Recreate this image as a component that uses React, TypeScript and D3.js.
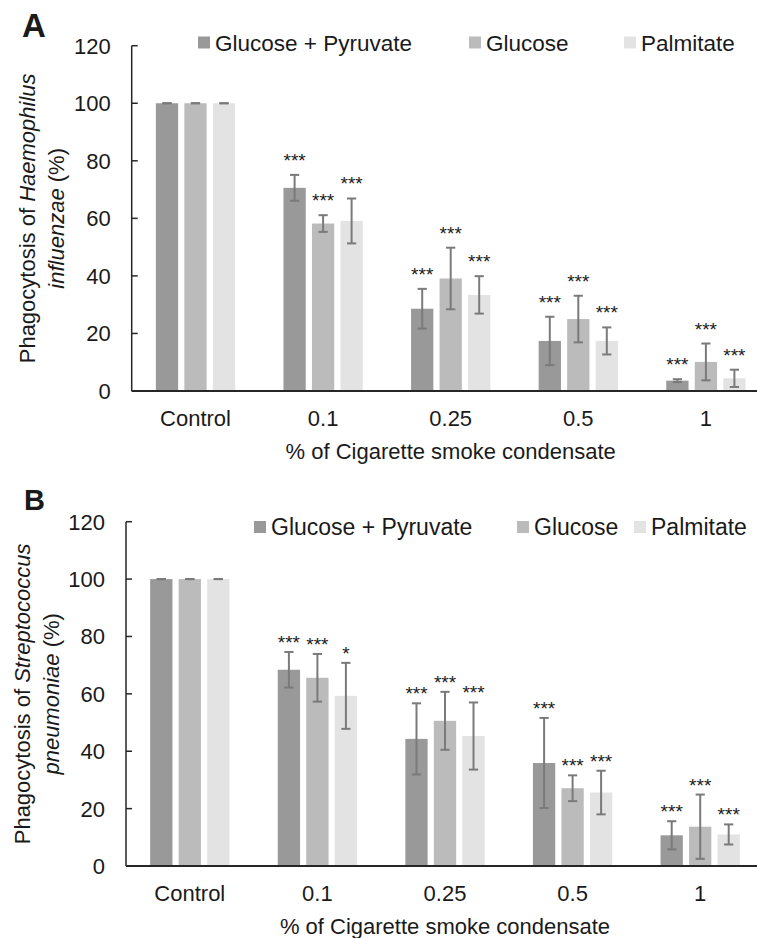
import React from 'react';
import * as d3 from 'd3';

// categories
const doses = ['Control', '0.1', '0.25', '0.5', '1'];
const seriesNames = ['Glucose + Pyruvate', 'Glucose', 'Palmitate'];
const seriesColors = ['#999999', '#bbbbbb', '#e3e3e3'];
const yTicks = [0, 20, 40, 60, 80, 100, 120];

// panel A - Haemophilus influenzae
const hiGlcPyr = [100, 70.6, 28.6, 17.4, 3.6];
const hiGlc = [100, 58.2, 39.1, 25.0, 10.1];
const hiPalm = [100, 59.1, 33.4, 17.4, 4.4];
const hiGlcPyrErr = [0, 4.5, 6.9, 8.4, 0.5];
const hiGlcErr = [0, 2.9, 10.7, 8.1, 6.4];
const hiPalmErr = [0, 7.8, 6.5, 4.7, 3.0];
const hiGlcPyrStars = ['', '***', '***', '***', '***'];
const hiGlcStars = ['', '***', '***', '***', '***'];
const hiPalmStars = ['', '***', '***', '***', '***'];

// panel B - Streptococcus pneumoniae
const spGlcPyr = [100, 68.4, 44.3, 35.9, 10.7];
const spGlc = [100, 65.6, 50.6, 27.1, 13.7];
const spPalm = [100, 59.3, 45.3, 25.6, 11.0];
const spGlcPyrErr = [0, 6.2, 12.4, 15.7, 4.9];
const spGlcErr = [0, 8.3, 10.1, 4.5, 11.2];
const spPalmErr = [0, 11.5, 11.7, 7.6, 3.5];
const spGlcPyrStars = ['', '***', '***', '***', '***'];
const spGlcStars = ['', '***', '***', '***', '***'];
const spPalmStars = ['', '*', '***', '***', '***'];

const FONT = '"Liberation Sans", Arial, Helvetica, sans-serif';
const TEXT = '#1a1a1a';

type PanelProps = {
  letter: string;
  letterX: number;
  letterY: number;
  letterSize: number;
  species: string;
  axisX: number;
  yTop: number;
  yBase: number;
  values: number[][];
  errors: number[][];
  stars: string[][];
  starGap: number;
  titleX: number[];
  legendX: number[];
  legendY: number;
  legendSize: number;
};

function Panel(p: PanelProps) {
  const band = 127.6;
  const x = d3.scaleBand<string>().domain(doses).range([p.axisX, p.axisX + band * doses.length]);
  const inner = d3
    .scaleBand<string>()
    .domain(seriesNames)
    .range([-42.75, 42.75])
    .paddingInner(0.218)
    .paddingOuter(0.109);
  const y = d3.scaleLinear().domain([0, 120]).range([p.yBase, p.yTop]);
  const midY = (p.yBase + p.yTop) / 2;
  const [x0, x1] = x.range();

  return (
    <g fontFamily={FONT} fill={TEXT}>
      <text x={p.letterX} y={p.letterY} fontSize={p.letterSize} fontWeight="bold">
        {p.letter}
      </text>

      {/* legend */}
      {seriesNames.map((s, i) => (
        <g key={s}>
          <rect x={p.legendX[i]} y={p.legendY - 6} width={12} height={12} fill={seriesColors[i]} />
          <text x={p.legendX[i] + 17} y={p.legendY + 8} fontSize={p.legendSize}>
            {s}
          </text>
        </g>
      ))}

      {/* bars */}
      {doses.map((d, gi) =>
        seriesNames.map((s, si) => {
          const v = p.values[si][gi];
          const e = p.errors[si][gi];
          const bx = (x(d) as number) + x.bandwidth() / 2 + (inner(s) as number);
          const bw = inner.bandwidth();
          const cx = bx + bw / 2;
          return (
            <g key={d + s}>
              <rect x={bx} y={y(v)} width={bw} height={y(0) - y(v)} fill={seriesColors[si]} />
              <g stroke="#7a7a7a" strokeWidth={2}>
                <line x1={cx} x2={cx} y1={y(v + e)} y2={y(v - e)} />
                <line x1={cx - 4.6} x2={cx + 4.6} y1={y(v + e)} y2={y(v + e)} />
                <line x1={cx - 4.6} x2={cx + 4.6} y1={y(v - e)} y2={y(v - e)} />
              </g>
              {p.stars[si][gi] && (
                <text x={cx} y={y(v + e) - p.starGap} fontSize={19} textAnchor="middle">
                  {p.stars[si][gi]}
                </text>
              )}
            </g>
          );
        })
      )}

      {/* y axis */}
      <line x1={p.axisX} x2={p.axisX} y1={y(120)} y2={y(0)} stroke="#262626" strokeWidth={1.5} />
      {yTicks.map((t) => (
        <g key={t}>
          <line x1={p.axisX} x2={p.axisX + 6} y1={y(t)} y2={y(t)} stroke="#262626" strokeWidth={1.5} />
          <text x={p.axisX - 21} y={y(t) + 8} fontSize={22} textAnchor="end">
            {t}
          </text>
        </g>
      ))}

      {/* x axis */}
      <line x1={x0} x2={x1} y1={y(0)} y2={y(0)} stroke="#262626" strokeWidth={1.8} />
      {doses.map((d) => (
        <text
          key={d}
          x={(x(d) as number) + x.bandwidth() / 2}
          y={y(0) + 35}
          fontSize={22}
          textAnchor="middle"
        >
          {d}
        </text>
      ))}
      <text x={(x0 + x1) / 2} y={y(0) + 68} fontSize={22} textAnchor="middle">
        % of Cigarette smoke condensate
      </text>

      {/* y title */}
      <text transform={`translate(${p.titleX[0]},${midY}) rotate(-90)`} fontSize={22} textAnchor="middle">
        Phagocytosis of <tspan fontStyle="italic">{p.species.split(' ')[0]}</tspan>
      </text>
      <text transform={`translate(${p.titleX[1]},${midY}) rotate(-90)`} fontSize={22} textAnchor="middle">
        <tspan fontStyle="italic">{p.species.split(' ')[1]}</tspan> (%)
      </text>
    </g>
  );
}

export default function App() {
  return (
    <svg
      width={757}
      height={938}
      style={{ position: 'absolute', left: 0, top: 0, background: '#fff' }}
    >
      <Panel
        letter="A"
        letterX={22}
        letterY={37}
        letterSize={33}
        species="Haemophilus influenzae"
        axisX={131.7}
        yTop={45.7}
        yBase={391}
        values={[hiGlcPyr, hiGlc, hiPalm]}
        errors={[hiGlcPyrErr, hiGlcErr, hiPalmErr]}
        stars={[hiGlcPyrStars, hiGlcStars, hiPalmStars]}
        starGap={8}
        titleX={[35, 64]}
        legendX={[198, 469, 624]}
        legendY={42.5}
        legendSize={22.5}
      />
      <Panel
        letter="B"
        letterX={24}
        letterY={510}
        letterSize={29}
        species="Streptococcus pneumoniae"
        axisX={126}
        yTop={521.7}
        yBase={866}
        values={[spGlcPyr, spGlc, spPalm]}
        errors={[spGlcPyrErr, spGlcErr, spPalmErr]}
        stars={[spGlcPyrStars, spGlcStars, spPalmStars]}
        starGap={3}
        titleX={[30, 59]}
        legendX={[254, 517, 634]}
        legendY={527}
        legendSize={23}
      />
    </svg>
  );
}
